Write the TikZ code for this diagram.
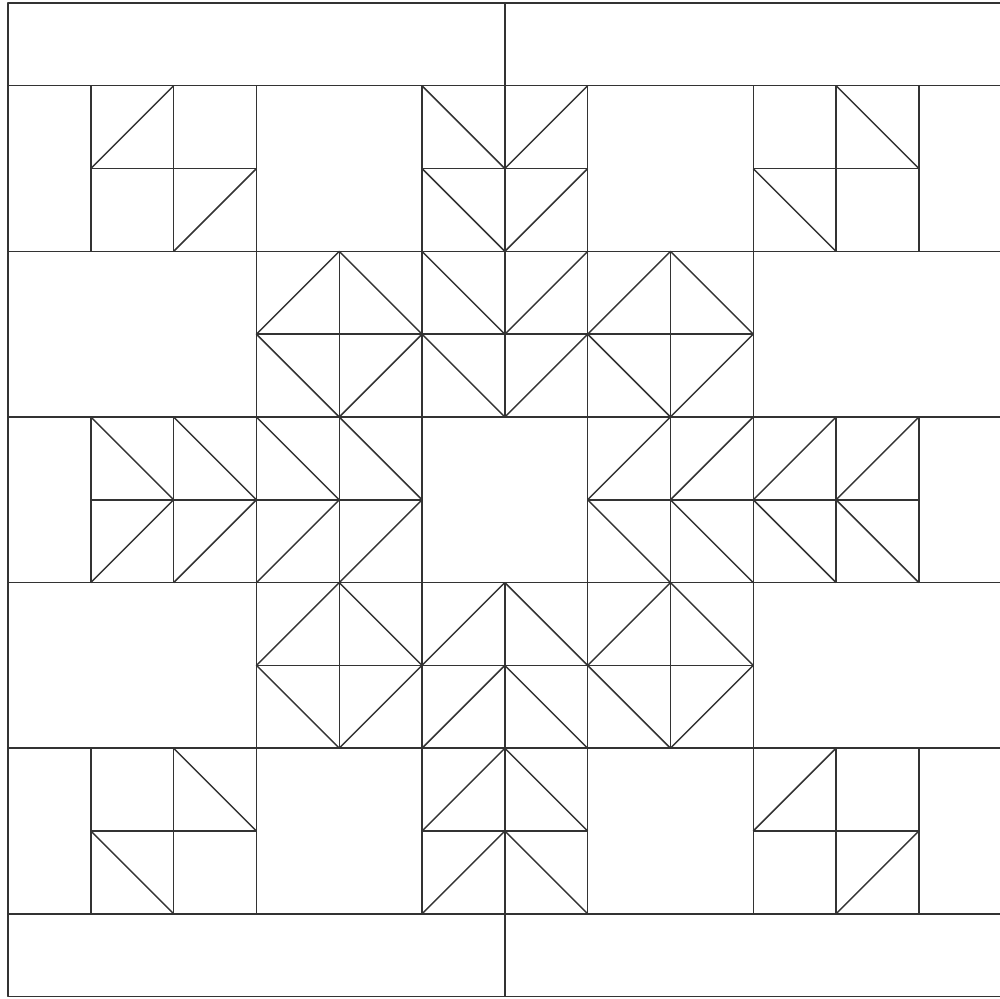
\documentclass[tikz,border=0pt]{standalone}
\usepackage{tikz}

\tikzset{
  seam/.style={line width=0.5pt, draw=black!80, line join=round},
}
% one 2x2 patch: centre cross (frame comes from the grid)
\newcommand{\patchcross}[2]{%
  \draw[seam] (#1+1,#2) -- ++(0,2) (#1,#2+1) -- ++(2,0);
}

\begin{document}
\begin{tikzpicture}[x=1cm, y=1cm]
	\useasboundingbox (-0.097,-0.017) rectangle (11.98,12.036);
	% outer frame and bands
	\draw[seam] (0,0) rectangle (12,12);
	\foreach \y in {1, 3, 5, 7, 9, 11} {
		\draw[seam] (0,\y) -- (12,\y);
	}
	\draw[seam] (6,11) -- (6,12);
	\draw[seam] (6,0) -- (6,1);
	% block rows: verticals
	\foreach \y in {1, 5, 9} {
		\foreach \x in {1, 3, 5, 7, 9, 11} {
			\draw[seam] (\x,\y) -- ++(0,2);
		}
	}
	\foreach \y in {3, 7} {
		\foreach \x in {3, 5, 7, 9} {
			\draw[seam] (\x,\y) -- ++(0,2);
		}
	}
	% patches with centre cross
	\foreach \x/\y in {1/9, 5/9, 9/9, 3/7, 5/7, 7/7, 1/5, 3/5, 7/5, 9/5, 3/3, 5/3, 7/3, 1/1, 5/1, 9/1} {
		\patchcross{\x}{\y}
	}
	% corner pinwheels
	\draw[seam] (1,10) -- (2,11) (2,9) -- (3,10);
	\draw[seam] (10,11) -- (11,10) (9,10) -- (10,9);
	\draw[seam] (2,3) -- (3,2) (1,2) -- (2,1);
	\draw[seam] (9,2) -- (10,3) (10,1) -- (11,2);
	% diamonds
	\foreach \x/\y in {3/7, 7/7, 3/3, 7/3} {
		\draw[seam] (\x+1,\y) -- (\x+2,\y+1) -- (\x+1,\y+2) -- (\x,\y+1) -- cycle;
	}
	% down arrows (top column)
	\foreach \y in {9, 7} {
		\draw[seam] (5,\y+2) -- (6,\y+1) -- (7,\y+2);
		\draw[seam] (5,\y+1) -- (6,\y) -- (7,\y+1);
	}
	% up arrows (bottom column)
	\foreach \y in {3, 1} {
		\draw[seam] (5,\y+1) -- (6,\y+2) -- (7,\y+1);
		\draw[seam] (5,\y) -- (6,\y+1) -- (7,\y);
	}
	% right arrows
	\foreach \x in {1, 2, 3, 4} {
		\draw[seam] (\x,7) -- (\x+1,6) -- (\x,5);
	}
	% left arrows
	\foreach \x in {8, 9, 10, 11} {
		\draw[seam] (\x,7) -- (\x-1,6) -- (\x,5);
	}
\end{tikzpicture}
\end{document}
